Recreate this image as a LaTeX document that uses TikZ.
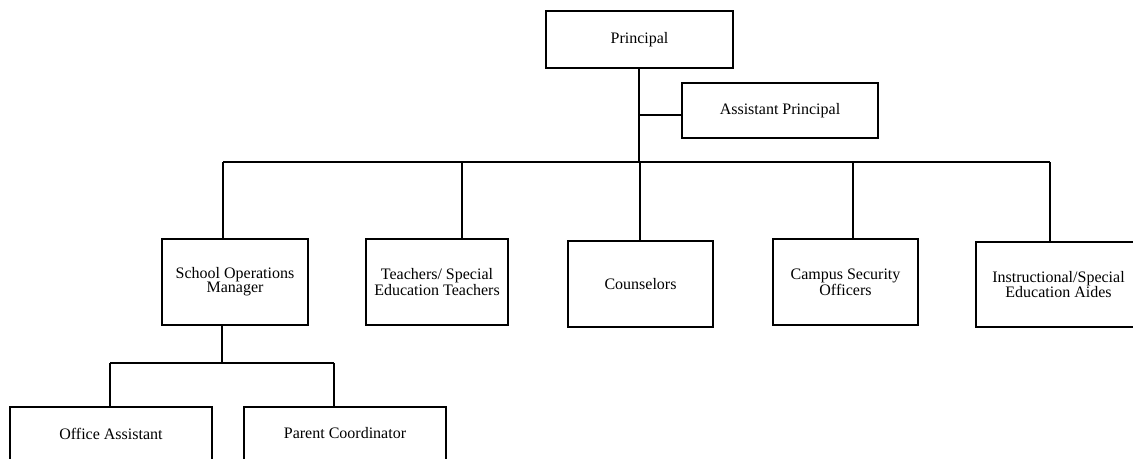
\documentclass[tikz,border=0pt]{standalone}
\usepackage{fontspec}
\setmainfont{Liberation Serif}
\usetikzlibrary{positioning}

\tikzset{
  post/.style={draw, line width=0.9pt, align=center, inner sep=0pt,
    font=\fontsize{12}{10.5}\selectfont},
  size/.style 2 args={minimum width=#1*0.75pt, minimum height=#2*0.75pt},
  link/.style={line width=0.9pt},
}

\begin{document}
\begin{tikzpicture}[x=0.75pt, y=-0.75pt]
        \useasboundingbox (0,0) rectangle (1133,458);

        \node [post, size={187}{57}] (principal) at (639.5, 39.5) {Principal};
        \node [post, size={196}{55}] (asst) at (780, 110.5) {Assistant Principal};

        \node [post, size={146}{86}] (som) at (235, 282) {School Operations\\Manager};
        \node [post, size={142}{86}] (teach) at (437, 282) {Teachers/ Special\\Education Teachers};
        \node [post, size={145}{86}] (couns) at (640.5, 284) {Counselors};
        \node [post, size={145}{86}] (campus) at (845.5, 282) {Campus Security\\Officers};
        \node [post, size={165}{85}] (instr) at (1058.5, 284.5) {Instructional/Special\\Education Aides};

        \node [post, size={202}{53}] (office) at (111, 433.5) {Office Assistant};
        \node [post, size={202}{53}] (parent) at (345, 433.5) {Parent Coordinator};

        % principal down to the staff bar
        \coordinate (hub) at (639, 162);
        \coordinate (ap) at (639, 115);
        \draw [link] (principal.south -| hub) -- (hub);
        \draw [link] (ap) -- (ap -| asst.west);

        \coordinate (barL) at (223, 162);
        \coordinate (barR) at (1050, 162);
        \draw [link] (barL) -- (barR);

        \foreach \x / \staff in {223/som, 462/teach, 640/couns, 853/campus, 1050/instr}{
          \coordinate (d\staff) at (\x, 162);
          \draw [link] (d\staff) -- (d\staff |- \staff.north);
        }

        % operations manager's team
        \coordinate (sub) at (222, 363);
        \coordinate (subL) at (110, 363);
        \coordinate (subR) at (334, 363);
        \draw [link] (som.south -| sub) -- (sub);
        \draw [link] (subL) -- (subR);
        \draw [link] (subL) -- (subL |- office.north);
        \draw [link] (subR) -- (subR |- parent.north);
      \end{tikzpicture}
\end{document}
